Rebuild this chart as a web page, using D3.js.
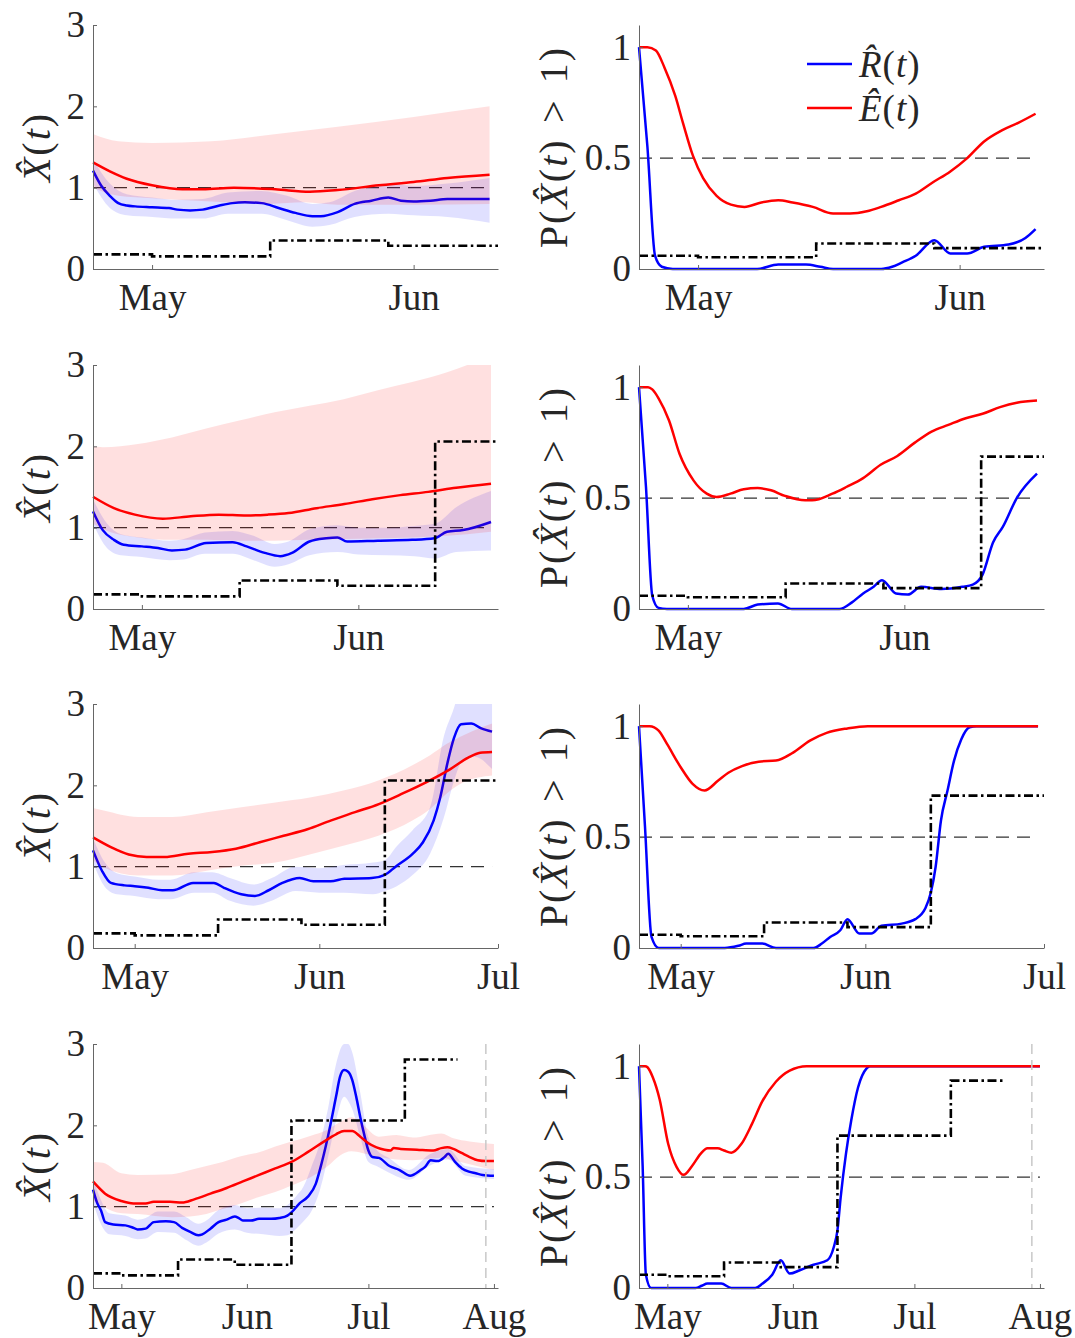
<!DOCTYPE html>
<html>
<head>
<meta charset="utf-8">
<script src="https://cdnjs.cloudflare.com/ajax/libs/d3/7.8.5/d3.min.js"></script>
<style>
body {margin: 0; background: #fff;}
svg text {font-family: "Liberation Serif", "Times New Roman", serif; fill: #262626;}
</style>
</head>
<body>
<svg id="chart" width="1075" height="1338"></svg>
<script>
// day 0 = 24 Apr; each row is an estimate made with data up to a later date
var startDay = Date.UTC(2020, 3, 24);
var axisEnd = [48, 58, 68, 100];
var dataEnd = [47, 57, 67, 99];
var stepEnd = [48, 58, 68, 90];
var markerDay = 97; // grey dashed line, last row only

// dash-dot step series (same in every row, cut at stepEnd)
var stepStart = [0, 7, 21, 35, 49, 77];
var stepLevelX = [0.18, 0.155, 0.35, 0.285, 2.06, 2.81];
var stepLevelP = [0.06, 0.053, 0.115, 0.094, 0.687, 0.935];

// R(t) estimate [day, value] and band [day, lo, hi]
var rMean1 = [[0,1.21],[1,1.02],[2,0.9],[3,0.81],[4,0.78],[5,0.77],[7,0.76],[9,0.75],[10,0.73],[11.5,0.72],[13,0.73],[15,0.78],[16.5,0.81],[18,0.82],[20,0.81],[22,0.75],[24,0.69],[26,0.65],[27,0.65],[29,0.7],[31,0.8],[33,0.84],[35,0.88],[36.5,0.84],[38,0.83],[40,0.84],[42,0.86],[44,0.86],[47,0.86]];
var rBand1 = [[0,1.05,1.35],[2,0.75,1.05],[4,0.66,0.92],[7,0.64,0.88],[10,0.62,0.85],[13,0.62,0.86],[16,0.68,0.94],[20,0.68,0.96],[23,0.6,0.9],[26,0.52,0.8],[28,0.54,0.82],[31,0.64,0.96],[35,0.68,1.05],[38,0.66,1.02],[42,0.64,1.05],[47,0.57,1.12]];
var rMean2 = [[0,1.2],[1.4,0.97],[3,0.85],[4.4,0.79],[7,0.77],[9.3,0.75],[11.3,0.72],[13.2,0.73],[16.2,0.81],[20,0.82],[22,0.77],[24.6,0.69],[26.8,0.65],[28.5,0.69],[31,0.83],[33.4,0.87],[35,0.88],[36.4,0.83],[40.8,0.84],[45.7,0.85],[48.9,0.87],[50.7,0.95],[53,0.97],[57,1.07]];
var rBand2 = [[0,1.05,1.35],[2,0.75,1.05],[4,0.66,0.92],[7,0.64,0.88],[11,0.6,0.84],[13,0.61,0.86],[16,0.68,0.94],[20,0.68,0.96],[23,0.6,0.9],[26,0.52,0.8],[28,0.55,0.83],[31,0.66,0.98],[35,0.7,1.03],[38,0.67,1.0],[42,0.66,1.0],[46,0.65,1.02],[49,0.62,1.05],[52,0.7,1.25],[57,0.72,1.45]];
var rMean3 = [[0,1.2],[1.5,0.95],[3,0.8],[5.3,0.77],[7,0.76],[9.3,0.74],[11.6,0.71],[13.4,0.71],[16.8,0.8],[20.3,0.8],[22,0.74],[24.9,0.66],[27.2,0.64],[29.5,0.71],[31.8,0.8],[34.7,0.86],[37,0.82],[39.9,0.82],[42.2,0.85],[46.8,0.86],[49,0.9],[50.8,1.0],[53.7,1.16],[55.4,1.3],[57.2,1.57],[58.3,1.85],[59.5,2.27],[60.6,2.58],[61.8,2.75],[63.5,2.76],[65.2,2.7],[67,2.66]];
var rBand3 = [[0,1.05,1.35],[2,0.75,1.05],[4,0.66,0.92],[7,0.64,0.88],[11,0.6,0.84],[13,0.6,0.84],[17,0.68,0.93],[20,0.68,0.93],[23,0.58,0.86],[27,0.52,0.78],[30,0.58,0.86],[34,0.7,1.0],[38,0.68,0.98],[42,0.68,1.02],[47,0.66,1.05],[49,0.7,1.08],[51,0.76,1.25],[53.7,0.9,1.45],[56.6,1.16,1.73],[58.9,1.6,2.6],[60.6,2.05,2.95],[62,2.3,3.3],[64,2.35,3.35],[67,2.2,3.2]];
var rMean4 = [[0,1.21],[1,1.05],[2,0.95],[3,0.81],[5,0.78],[8,0.77],[10,0.74],[11,0.72],[13,0.73],[15,0.81],[18,0.82],[20,0.81],[22,0.74],[24,0.69],[26,0.65],[27,0.66],[29,0.73],[31,0.81],[33,0.84],[35,0.88],[36,0.86],[37,0.83],[39,0.83],[41,0.85],[44,0.85],[46,0.86],[48,0.89],[49,0.93],[51,1.04],[53,1.12],[55,1.28],[56,1.45],[58,1.86],[60,2.35],[61,2.6],[62,2.68],[63,2.66],[64,2.56],[65,2.35],[66,2.1],[67,1.88],[68,1.69],[69,1.61],[70.6,1.6],[73.2,1.5],[75.7,1.45],[78.3,1.38],[80.9,1.45],[82,1.49],[83.4,1.57],[85.1,1.56],[86.8,1.61],[87.7,1.65],[89.4,1.55],[91.1,1.47],[92.8,1.43],[94.5,1.41],[96.2,1.39],[99,1.38]];
var rBand4 = [[0,1.05,1.35],[2,0.78,1.08],[4,0.66,0.92],[8,0.64,0.89],[11,0.6,0.84],[13,0.61,0.86],[16,0.69,0.94],[20,0.68,0.94],[23,0.59,0.87],[26,0.52,0.79],[28,0.56,0.83],[31,0.67,0.96],[35,0.72,1.02],[38,0.68,0.98],[42,0.66,0.99],[46,0.64,0.98],[48,0.65,1.02],[50,0.72,1.12],[52,0.82,1.25],[54,0.95,1.5],[56,1.2,1.78],[58,1.6,2.2],[60,2.05,2.75],[62,2.35,3.0],[63,2.3,3.0],[64,2.2,2.9],[66,1.85,2.4],[68,1.55,1.85],[70,1.5,1.7],[73,1.42,1.6],[78,1.33,1.45],[83,1.5,1.64],[87.7,1.58,1.71],[92,1.38,1.5],[99,1.34,1.46]];

// E(t) estimate and band
var eMean1 = [[0,1.31],[2,1.2],[4,1.11],[7,1.03],[10.6,0.98],[13,0.98],[16.7,1.0],[21.6,0.98],[25.7,0.95],[29,0.97],[33.9,1.03],[38,1.07],[42,1.12],[47,1.16]];
var eBand1 = [[0,1.0,1.66],[3,0.9,1.57],[7,0.87,1.55],[14,0.83,1.57],[21,0.8,1.65],[25,0.82,1.7],[29,0.79,1.75],[38,0.79,1.87],[47,0.8,2.0]];
var eMean2 = [[0,1.38],[3,1.24],[6,1.16],[10,1.11],[14,1.14],[18,1.16],[22,1.15],[25,1.16],[28,1.18],[32,1.24],[36,1.29],[40,1.35],[44,1.4],[48,1.44],[52,1.49],[57,1.54]];
var eBand2 = [[0,1.05,2.0],[1.4,0.98,1.99],[6.4,0.88,2.03],[11.3,0.85,2.11],[16.2,0.85,2.22],[21.1,0.84,2.32],[26,0.84,2.42],[31,0.85,2.5],[35.9,0.86,2.58],[40.8,0.87,2.69],[45.7,0.88,2.79],[50.7,0.9,2.91],[53.6,0.92,3.0],[57,0.95,3.1]];
var eMean3 = [[0,1.36],[3,1.24],[6,1.15],[9,1.12],[12,1.12],[16,1.16],[20,1.18],[24,1.22],[28,1.3],[32,1.38],[36,1.46],[40,1.57],[44,1.67],[48,1.77],[52,1.9],[56,2.04],[60,2.2],[63,2.34],[65,2.4],[67,2.41]];
var eBand3 = [[0,1.08,1.72],[1.8,0.99,1.69],[7.6,0.89,1.61],[13.3,0.89,1.61],[19.1,0.95,1.67],[24.9,1.01,1.73],[30.6,1.05,1.79],[36.4,1.15,1.85],[42.2,1.26,1.94],[47.9,1.38,2.06],[53.7,1.57,2.25],[56.6,1.71,2.37],[59.4,1.9,2.51],[62.3,2.04,2.62],[67,2.12,2.76]];
var eMean4 = [[0,1.31],[3,1.16],[7,1.07],[10,1.04],[13,1.04],[15,1.06],[19,1.06],[22,1.05],[25,1.09],[29,1.16],[33,1.23],[37,1.31],[41,1.39],[45,1.47],[49,1.55],[53,1.67],[57,1.8],[60,1.89],[62,1.93],[64,1.93],[66,1.86],[68,1.78],[70,1.73],[72,1.7],[73.5,1.69],[74.2,1.72],[76,1.71],[80,1.7],[84,1.69],[86,1.72],[87.5,1.73],[89,1.71],[91,1.66],[93,1.61],[95,1.57],[97,1.56],[99,1.56]];
var eBand4 = [[0,1.08,1.55],[2.5,1.0,1.54],[7,0.92,1.41],[11,0.91,1.39],[19.5,0.87,1.4],[24,0.88,1.45],[28,0.91,1.5],[32,0.97,1.55],[36.5,1.04,1.62],[41,1.12,1.67],[45,1.18,1.74],[49,1.26,1.8],[53.6,1.36,1.87],[58,1.5,1.95],[61,1.63,2.04],[63.8,1.68,2.1],[66.4,1.66,2.02],[70.6,1.61,1.86],[74.9,1.58,1.88],[79,1.57,1.85],[86,1.6,1.9],[89,1.57,1.84],[93,1.52,1.8],[99,1.45,1.77]];

// P(R>1) and P(E>1)
var pR1 = [[0,1],[1,0.55],[1.9,0.06],[2.7,0.01],[4,0],[14,0],[16.5,0.02],[19.8,0.02],[21.5,0.01],[23,0],[28.7,0],[30,0.01],[31.2,0.03],[32.8,0.06],[35,0.13],[36.9,0.07],[38.9,0.07],[40.9,0.1],[43.8,0.11],[45.8,0.14],[47,0.18]];
var pE1 = [[0,1],[1,1],[2,0.985],[3,0.91],[4.3,0.78],[5.2,0.66],[6.4,0.51],[7.6,0.41],[9.2,0.33],[10.9,0.29],[12.5,0.28],[14.5,0.3],[16.5,0.31],[18.2,0.3],[20.6,0.28],[23,0.25],[25,0.25],[27,0.26],[28.7,0.28],[30.8,0.31],[32.8,0.34],[34.8,0.39],[36.9,0.44],[38.9,0.5],[40.9,0.575],[43,0.625],[45,0.66],[47,0.7]];
var pR2 = [[0,1],[1,0.55],[1.9,0.06],[2.8,0.005],[4,0],[15,0],[17,0.02],[19.9,0.025],[21.9,0],[28.7,0],[30.5,0.03],[32.1,0.07],[33.6,0.1],[34.8,0.13],[36.8,0.07],[38.5,0.065],[40.4,0.1],[43.3,0.09],[46.3,0.1],[47.8,0.11],[49.2,0.155],[50.7,0.3],[52.1,0.37],[54.1,0.5],[57,0.61]];
var pE2 = [[0,1],[1.3,1],[1.9,0.99],[2.8,0.95],[4.3,0.85],[5.8,0.7],[7.8,0.58],[9.7,0.52],[11.1,0.505],[13.1,0.52],[15,0.54],[17,0.545],[18.9,0.535],[20.9,0.51],[23.8,0.49],[24.8,0.49],[27.7,0.52],[29.7,0.55],[32.1,0.59],[34.6,0.65],[37,0.69],[39.5,0.75],[41.9,0.8],[44.3,0.83],[46.8,0.86],[49.2,0.88],[51.7,0.91],[54.1,0.93],[57,0.94]];
var pR3 = [[0,1],[1,0.55],[2.1,0.05],[3.3,0],[14.4,0],[16.7,0.01],[18,0.02],[20.7,0.02],[23,0],[29.3,0],[30.7,0.02],[32.1,0.05],[33.8,0.08],[35,0.13],[37,0.065],[39,0.065],[40.7,0.1],[44.1,0.11],[46.4,0.13],[48.1,0.18],[49,0.25],[49.8,0.365],[50.7,0.575],[51.8,0.71],[52.9,0.845],[54.1,0.94],[55.5,0.995],[56.7,1],[67,1]];
var pE3 = [[0,1],[1.8,1],[3.3,0.98],[4.7,0.92],[7,0.815],[9,0.74],[11,0.71],[13.3,0.755],[15,0.79],[17.3,0.82],[20.1,0.84],[23,0.845],[25.8,0.88],[28.7,0.935],[31.5,0.97],[35,0.99],[38.4,1],[67,1]];
var pR4 = [[0,1],[0.9,0.55],[1.7,0.06],[3,0],[14,0],[15.5,0.01],[16.9,0.02],[20.3,0.02],[22.8,0],[28.7,0],[30.5,0.02],[32.9,0.06],[35,0.125],[37.2,0.065],[39.7,0.08],[43.1,0.105],[46.5,0.125],[48.1,0.185],[49,0.26],[49.8,0.41],[51.1,0.605],[52.4,0.755],[54.1,0.905],[56.2,0.99],[57,1],[99,1]];
var pE4 = [[0,1],[1.5,1],[2.1,0.995],[3.4,0.95],[5.1,0.85],[7.2,0.65],[9.3,0.545],[11,0.51],[13.1,0.55],[15.2,0.605],[16.9,0.63],[19.4,0.63],[21,0.62],[22.8,0.61],[25.3,0.65],[27.9,0.74],[30.4,0.84],[33.8,0.93],[37.2,0.98],[41.4,1],[99,1]];

var rows = [
  {rMean: rMean1, rBand: rBand1, eMean: eMean1, eBand: eBand1, pR: pR1, pE: pE1},
  {rMean: rMean2, rBand: rBand2, eMean: eMean2, eBand: eBand2, pR: pR2, pE: pE2},
  {rMean: rMean3, rBand: rBand3, eMean: eMean3, eBand: eBand3, pR: pR3, pE: pE3},
  {rMean: rMean4, rBand: rBand4, eMean: eMean4, eBand: eBand4, pR: pR4, pE: pE4}
];

var panelW = 405, panelH = 244;
var leftX = 93, rightX = 639;
var rowTop = [25, 365, 704, 1044];
var serif = '"Liberation Serif", "Times New Roman", serif';
var tickSize = 37, titleSize = 40;

function day(d) { return new Date(startDay + d * 864e5); }

function stepPoints(levels, end) {
  var pts = [];
  stepStart.forEach(function(s, k) { if (s < end) pts.push([s, levels[k]]); });
  pts.push([end, pts[pts.length - 1][1]]);
  return pts;
}

var svg = d3.select("#chart");
svg.append("rect").attr("width", 1075).attr("height", 1338).attr("fill", "#fff");

function drawAxes(g, x, y, yTicks, months) {
  var xa = g.append("g").attr("transform", "translate(0," + panelH + ")")
    .call(d3.axisBottom(x).tickValues(months).tickFormat(d3.utcFormat("%b"))
      .tickSizeInner(-4).tickSizeOuter(0).tickPadding(15));
  var ya = g.append("g")
    .call(d3.axisLeft(y).tickValues(yTicks).tickFormat(function(v) { return String(v); })
      .tickSizeInner(-4).tickSizeOuter(0).tickPadding(8));
  [xa, ya].forEach(function(a) {
    a.attr("font-family", null).attr("font-size", null);
    a.select(".domain").attr("stroke", "#666").attr("stroke-width", 1);
    a.selectAll(".tick line").attr("stroke", "#666");
    a.selectAll("text")
      .style("font-family", serif)
      .style("font-size", tickSize + "px")
      .style("fill", "#262626");
  });
}

function mathText(t, parts) {
  parts.forEach(function(p) {
    t.append("tspan").text(p[0]).style("font-style", p[1] ? "italic" : "normal");
  });
}

function axisTitle(g, xPos, parts) {
  var t = g.append("text")
    .attr("transform", "translate(" + xPos + "," + (panelH / 2) + ") rotate(-90)")
    .attr("text-anchor", "middle")
    .style("font-family", serif)
    .style("font-size", titleSize + "px")
    .style("letter-spacing", "2px");
  mathText(t, parts);
}

rows.forEach(function(row, i) {
  var x = d3.scaleUtc().domain([day(0), day(axisEnd[i])]).range([0, panelW]);
  var months = d3.utcMonth.range(day(1), day(axisEnd[i] + 0.5));
  var yL = d3.scaleLinear().domain([0, 3]).range([panelH, 0]);
  var yR = d3.scaleLinear().domain([0, 1.1]).range([panelH, 0]);

  var lineL = d3.line().x(function(d) { return x(day(d[0])); }).y(function(d) { return yL(d[1]); }).curve(d3.curveMonotoneX);
  var lineR = d3.line().x(function(d) { return x(day(d[0])); }).y(function(d) { return yR(d[1]); }).curve(d3.curveMonotoneX);
  var band = d3.area().x(function(d) { return x(day(d[0])); })
    .y0(function(d) { return yL(d[1]); }).y1(function(d) { return yL(d[2]); }).curve(d3.curveMonotoneX);
  var stepL = d3.line().x(function(d) { return x(day(d[0])); }).y(function(d) { return yL(d[1]); }).curve(d3.curveStepAfter);
  var stepR = d3.line().x(function(d) { return x(day(d[0])); }).y(function(d) { return yR(d[1]); }).curve(d3.curveStepAfter);

  // ---------- left panel: X-hat(t)
  var gl = svg.append("g").attr("transform", "translate(" + leftX + "," + rowTop[i] + ")");
  gl.append("clipPath").attr("id", "clip" + i).append("rect").attr("width", panelW).attr("height", panelH);

  gl.append("path").datum([[0, 1], [dataEnd[i], 1]]).attr("d", lineL)
    .attr("fill", "none").attr("stroke", "#333").attr("stroke-width", 1.3).attr("stroke-dasharray", "13,8");

  gl.append("path").datum(row.rBand).attr("d", band).attr("clip-path", "url(#clip" + i + ")")
    .attr("fill", "#0000ff").attr("fill-opacity", 0.12);
  gl.append("path").datum(row.rMean).attr("d", lineL)
    .attr("fill", "none").attr("stroke", "#0000ff").attr("stroke-width", 2.5);
  gl.append("path").datum(row.eBand).attr("d", band).attr("clip-path", "url(#clip" + i + ")")
    .attr("fill", "#ff0000").attr("fill-opacity", 0.12);
  gl.append("path").datum(row.eMean).attr("d", lineL)
    .attr("fill", "none").attr("stroke", "#ff0000").attr("stroke-width", 2.5);

  gl.append("path").datum(stepPoints(stepLevelX, stepEnd[i])).attr("d", stepL)
    .attr("fill", "none").attr("stroke", "#000").attr("stroke-width", 2.6).attr("stroke-dasharray", "9,3.5,2.5,3.5");

  if (i === 3) {
    gl.append("line").attr("x1", x(day(markerDay))).attr("x2", x(day(markerDay)))
      .attr("y1", 0).attr("y2", panelH)
      .attr("stroke", "#c8c8c8").attr("stroke-width", 1.5).attr("stroke-dasharray", "10,6");
  }

  drawAxes(gl, x, yL, [0, 1, 2, 3], months);
  axisTitle(gl, -43, [["X\u0302", true], ["(", false], ["t", true], [")", false]]);

  // ---------- right panel: P(X-hat(t) > 1)
  var gr = svg.append("g").attr("transform", "translate(" + rightX + "," + rowTop[i] + ")");

  gr.append("path").datum([[0, 0.5], [dataEnd[i], 0.5]]).attr("d", lineR)
    .attr("fill", "none").attr("stroke", "#333").attr("stroke-width", 1.3).attr("stroke-dasharray", "13,8");

  gr.append("path").datum(row.pR).attr("d", lineR)
    .attr("fill", "none").attr("stroke", "#0000ff").attr("stroke-width", 2.5);
  gr.append("path").datum(row.pE).attr("d", lineR)
    .attr("fill", "none").attr("stroke", "#ff0000").attr("stroke-width", 2.5);

  gr.append("path").datum(stepPoints(stepLevelP, stepEnd[i])).attr("d", stepR)
    .attr("fill", "none").attr("stroke", "#000").attr("stroke-width", 2.6).attr("stroke-dasharray", "9,3.5,2.5,3.5");

  if (i === 3) {
    gr.append("line").attr("x1", x(day(markerDay))).attr("x2", x(day(markerDay)))
      .attr("y1", 0).attr("y2", panelH)
      .attr("stroke", "#c8c8c8").attr("stroke-width", 1.5).attr("stroke-dasharray", "10,6");
  }

  drawAxes(gr, x, yR, [0, 0.5, 1], months);
  axisTitle(gr, -72, [["P(", false], ["X\u0302", true], ["(", false], ["t", true], [")\u2004>\u20041)", false]]);

  if (i === 0) {
    var legend = [["R\u0302", "#0000ff", 39], ["E\u0302", "#ff0000", 83]];
    legend.forEach(function(l) {
      gr.append("line").attr("x1", 168).attr("x2", 213).attr("y1", l[2]).attr("y2", l[2])
        .attr("stroke", l[1]).attr("stroke-width", 2.5);
      var t = gr.append("text").attr("x", 220).attr("y", l[2]).attr("dy", "0.35em")
        .style("font-family", serif).style("font-size", "37px").style("letter-spacing", "1px");
      mathText(t, [[l[0], true], ["(", false], ["t", true], [")", false]]);
    });
  }
});
</script>
</body>
</html>
